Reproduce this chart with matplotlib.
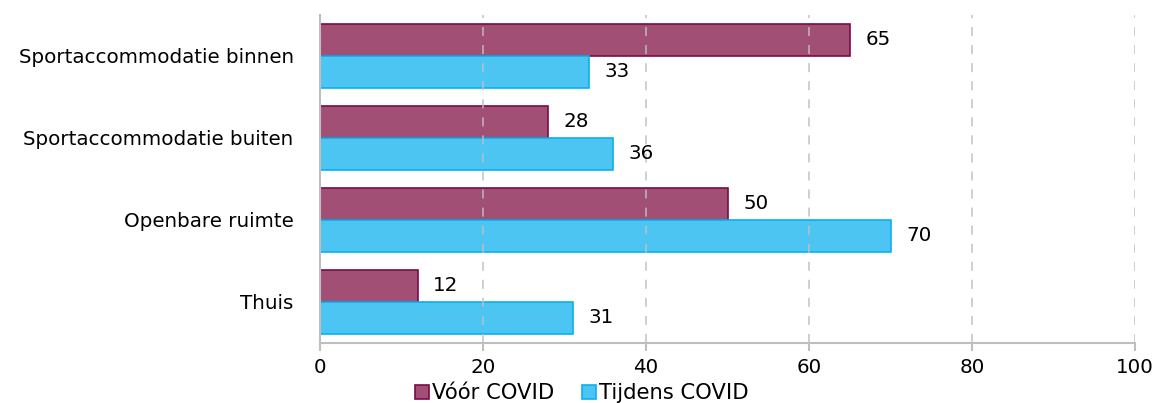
import matplotlib.pyplot as plt
import numpy as np
from matplotlib.patches import Patch

categories = ["Sportaccommodatie binnen", "Sportaccommodatie buiten", "Openbare ruimte", "Thuis"]
voor_covid = [65, 28, 50, 12]
tijdens_covid = [33, 36, 70, 31]
series_names = ["Vóór COVID", "Tijdens COVID"]

fig = plt.figure(figsize=(11.57, 4.03), dpi=100)
ax = fig.add_axes([0.2766, 0.149, 0.7044, 0.814])

fs = 14.3
y = np.arange(len(categories))
h = 0.39
ax.barh(y - h / 2, voor_covid, height=h, color="#A24F76", edgecolor="#7A0B45", linewidth=1.2, zorder=2)
ax.barh(y + h / 2, tijdens_covid, height=h, color="#4DC5F2", edgecolor="#0AB0EE", linewidth=1.2, zorder=2)

for yi, v in zip(y, voor_covid):
    ax.text(v + 1.9, yi - h / 2, str(v), va="center", ha="left", fontsize=fs)
for yi, v in zip(y, tijdens_covid):
    ax.text(v + 1.9, yi + h / 2, str(v), va="center", ha="left", fontsize=fs)

ax.set_xlim(0, 100)
ax.set_ylim(len(categories) - 0.5, -0.5)
ax.set_xticks(range(0, 101, 20))
ax.set_yticks(y)
ax.set_yticklabels(categories)
ax.tick_params(axis="y", length=0, pad=19, labelsize=fs)
ax.tick_params(axis="x", length=6, color="#BFBFBF", width=1.5, labelsize=fs, pad=5)

ax.grid(axis="x", linestyle=(0, (5, 5)), color="#BFBFBF", linewidth=1.3, alpha=0.8, zorder=3)
ax.set_axisbelow(False)

for s in ["top", "right"]:
    ax.spines[s].set_visible(False)
for s in ["left", "bottom"]:
    ax.spines[s].set_color("#BFBFBF")
    ax.spines[s].set_linewidth(1.5)

handles = [
    Patch(facecolor="#A24F76", edgecolor="#7A0B45", linewidth=1.2),
    Patch(facecolor="#4DC5F2", edgecolor="#0AB0EE", linewidth=1.2),
]
fig.legend(handles, series_names, loc="lower center", bbox_to_anchor=(0.503, -0.048), ncol=2,
           frameon=False, fontsize=15.2, handlelength=0.65, handleheight=0.65,
           handletextpad=0.15, columnspacing=1.3)

fig.savefig("out.png", dpi=100)
